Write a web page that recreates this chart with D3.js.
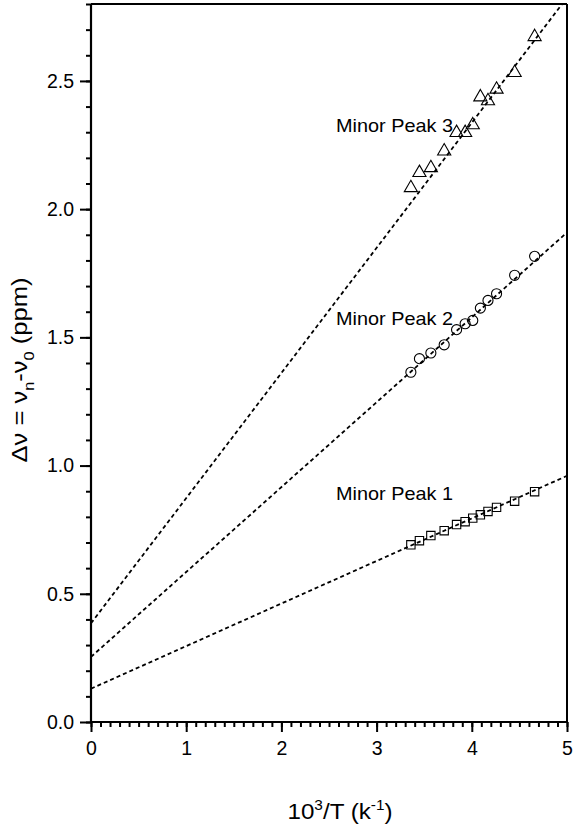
<!DOCTYPE html>
<html>
<head>
<meta charset="utf-8">
<script src="https://cdn.jsdelivr.net/npm/d3@7"></script>
<style>
  body { margin: 0; background: #fff; }
  text { font-family: "Liberation Sans", Arial, sans-serif; fill: #000; }
</style>
</head>
<body>
<div id="chart"></div>
<script>
// inverse temperature, same for all three peaks
const invT = [3.36, 3.45, 3.57, 3.71, 3.84, 3.93, 4.01, 4.09, 4.17, 4.26, 4.45, 4.66];

const peak1 = [0.691, 0.707, 0.727, 0.746, 0.770, 0.781, 0.795, 0.808, 0.821, 0.837, 0.861, 0.898];
const peak2 = [1.364, 1.417, 1.439, 1.471, 1.530, 1.553, 1.566, 1.614, 1.644, 1.670, 1.742, 1.816];
const peak3 = [2.087, 2.146, 2.165, 2.230, 2.302, 2.302, 2.332, 2.441, 2.426, 2.471, 2.536, 2.676];

// linear fits
const fitIntercepts = [0.13, 0.254, 0.385];
const fitSlopes = [0.166, 0.331, 0.488];

const seriesNames = ["Minor Peak 1", "Minor Peak 2", "Minor Peak 3"];
const xTicks = [0, 1, 2, 3, 4, 5];
const yTicks = [0.0, 0.5, 1.0, 1.5, 2.0, 2.5];

const svgWidth = 573;
const svgHeight = 834;
const margin = { top: 4, right: 6, bottom: 112, left: 91 };
const chartWidth = svgWidth - margin.left - margin.right;
const chartHeight = svgHeight - margin.top - margin.bottom;

const svg = d3.select("#chart")
    .append("svg")
    .attr("width", svgWidth)
    .attr("height", svgHeight);

const chart = svg.append("g")
    .attr("transform", `translate(${margin.left},${margin.top})`);

const xScale = d3.scaleLinear().domain([0, 5]).range([0, chartWidth]);
const yScale = d3.scaleLinear().domain([0, 2.8]).range([chartHeight, 0]);

chart.append("clipPath").attr("id", "clip")
    .append("rect").attr("width", chartWidth).attr("height", chartHeight);

// fit lines
const fits = fitIntercepts.map((b, i) => [[0, b], [5, b + fitSlopes[i] * 5]]);
chart.append("g").attr("clip-path", "url(#clip)")
    .selectAll(".fit")
    .data(fits)
    .enter()
    .append("path")
    .attr("class", "fit")
    .attr("d", d3.line().x(d => xScale(d[0])).y(d => yScale(d[1])))
    .attr("fill", "none")
    .attr("stroke", "#000")
    .attr("stroke-width", 1.8)
    .attr("stroke-dasharray", "4,3");

// markers
const sym = [d3.symbolSquare, d3.symbolCircle, d3.symbolTriangle];
const symSize = [70, 80, 75];
[peak1, peak2, peak3].forEach((vals, s) => {
    chart.selectAll(".pt" + s)
        .data(vals)
        .enter()
        .append("path")
        .attr("class", "pt" + s)
        .attr("transform", (d, i) => `translate(${xScale(invT[i])},${yScale(d) + (s === 2 ? 1 : 0)})`)
        .attr("d", d3.symbol().type(sym[s]).size(symSize[s]))
        .attr("fill", "none")
        .attr("stroke", "#000")
        .attr("stroke-width", 1.1);
});

// series labels
const labelPos = [[2.574, 0.866], [2.574, 1.548], [2.574, 2.30]];
chart.selectAll(".lbl")
    .data(seriesNames)
    .enter()
    .append("text")
    .attr("class", "lbl")
    .attr("x", (d, i) => xScale(labelPos[i][0]))
    .attr("y", (d, i) => yScale(labelPos[i][1]))
    .attr("textLength", 117)
    .attr("lengthAdjust", "spacingAndGlyphs")
    .style("font-size", "19px")
    .text(d => d);

// frame: top and right
chart.append("line").attr("x1", 0).attr("x2", chartWidth).attr("y1", 0).attr("y2", 0)
    .attr("stroke", "#000").attr("stroke-width", 2);
chart.append("line").attr("x1", chartWidth).attr("x2", chartWidth).attr("y1", 0).attr("y2", chartHeight)
    .attr("stroke", "#000").attr("stroke-width", 2);

// x axis
const xMinor = d3.range(0, 50.5).map(d => d / 10);
const xAxisG = chart.append("g").attr("transform", `translate(0,${chartHeight})`);
xAxisG.call(d3.axisBottom(xScale).tickValues(xMinor).tickSize(5).tickFormat(""));
xAxisG.selectAll(".tick line").attr("stroke-width", 2);
const xMajorG = chart.append("g").attr("transform", `translate(0,${chartHeight})`);
xMajorG.call(d3.axisBottom(xScale).tickValues(xTicks).tickSize(10).tickPadding(9).tickFormat(d3.format("d")));
xMajorG.selectAll(".tick line").attr("stroke-width", 2);
xMajorG.selectAll(".tick text").style("font-size", "19.5px");
chart.selectAll(".domain").remove();

// y axis
const yMinor = d3.range(0, 28.5).map(d => d / 10);
const yAxisG = chart.append("g");
yAxisG.call(d3.axisLeft(yScale).tickValues(yMinor).tickSize(5).tickFormat(""));
yAxisG.selectAll(".tick line").attr("stroke-width", 2);
const yMajorG = chart.append("g");
yMajorG.call(d3.axisLeft(yScale).tickValues(yTicks).tickSize(11).tickPadding(6).tickFormat(d3.format(".1f")));
yMajorG.selectAll(".tick line").attr("stroke-width", 2);
yMajorG.selectAll(".tick text").style("font-size", "19.5px");
chart.selectAll(".domain").remove();

chart.append("line").attr("x1", 0).attr("x2", chartWidth).attr("y1", chartHeight).attr("y2", chartHeight)
    .attr("stroke", "#000").attr("stroke-width", 2.2);
chart.append("line").attr("x1", 0).attr("x2", 0).attr("y1", 0).attr("y2", chartHeight)
    .attr("stroke", "#000").attr("stroke-width", 2.2);

// axis titles
const xTitle = svg.append("text")
    .attr("x", 340)
    .attr("y", 819)
    .attr("text-anchor", "middle")
    .attr("textLength", 105)
    .attr("lengthAdjust", "spacingAndGlyphs")
    .style("font-size", "22px");
xTitle.append("tspan").text("10");
xTitle.append("tspan").attr("dy", -9).style("font-size", "14px").text("3");
xTitle.append("tspan").attr("dy", 9).text("/T (k");
xTitle.append("tspan").attr("dy", -9).style("font-size", "14px").text("-1");
xTitle.append("tspan").attr("dy", 9).text(")");

const yTitle = svg.append("text")
    .attr("transform", "translate(27,370) rotate(-90)")
    .attr("text-anchor", "middle")
    .attr("textLength", 185)
    .attr("lengthAdjust", "spacingAndGlyphs")
    .style("font-size", "22px");
yTitle.append("tspan").text("\u0394\u03bd = \u03bd");
yTitle.append("tspan").attr("dy", 7).style("font-size", "14px").text("n");
yTitle.append("tspan").attr("dy", -7).text("-\u03bd");
yTitle.append("tspan").attr("dy", 7).style("font-size", "14px").text("0");
yTitle.append("tspan").attr("dy", -7).text(" (ppm)");
</script>
</body>
</html>
